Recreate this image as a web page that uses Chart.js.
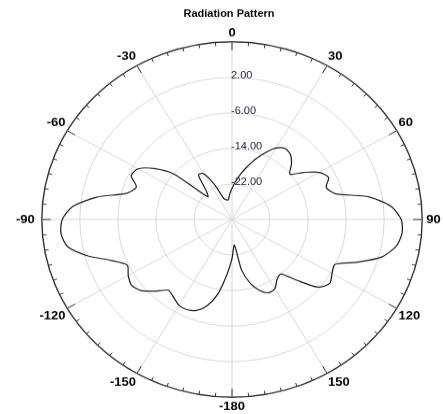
<!DOCTYPE html>
<html>
<head>
<meta charset="utf-8">
<script src="https://cdn.jsdelivr.net/npm/chart.js@4.4.1/dist/chart.umd.min.js"></script>
<style>
  html, body { margin: 0; padding: 0; background: #fff; overflow: hidden; }
  #wrap { width: 443px; height: 443px; overflow: hidden; transform: scaleY(0.934); transform-origin: 0 0; }
</style>
</head>
<body>
<div id="wrap"><canvas id="chart" width="447" height="443"></canvas></div>
<script>
// --- Data ---
// angles in degrees, clockwise from top, one every 5 degrees
const angles = Array.from({ length: 72 }, (_, i) => i * 5);
// gain in dB, same order as angles
const gainDb = [
  -23.0, -21.4, -19.6, -17.7, -15.5, -13.4, -11.4, -10.5, -10.9, -12.3, -14.1, -11.5,
  -8.8, -7.6, -8.9, -7.5, -0.7, 3.6, 5.6, 5.9, 5.0, 2.6, -1.9, -6.1,
  -5.7, -4.9, -6.3, -10.6, -14.0, -13.5, -12.0, -11.8, -13.0, -15.1, -18.5, -24.2,
  -21.2, -17.5, -13.0, -9.9, -8.2, -7.6, -7.7, -8.6, -9.2, -7.2, -5.1, -4.2,
  -4.8, -5.7, -3.0, 1.5, 5.1, 6.1, 5.7, 3.6, -1.1, -7.1, -8.6, -6.6,
  -7.2, -10.0, -14.1, -22.8, -21.6, -17.7, -18.1, -21.4, -25.0, -25.4, -25.5, -24.3
];
const rMin = -30;
const rMax = 10;
const rStep = 8;

const FONT = 'Arial, "Liberation Sans", sans-serif';

function angleLabel(a) {
  if (a % 30 !== 0) return '';
  return String(a < 180 ? a : a - 360);
}

// --- rim ticks + dB labels ---
const rimTicks = {
  id: 'rimTicks',
  afterDraw(chart) {
    const s = chart.scales.r;
    const ctx = chart.ctx;
    const R = s.drawingArea;
    ctx.save();
    ctx.strokeStyle = '#333';
    ctx.lineWidth = 1;
    angles.forEach((a, i) => {
      const len = a % 30 === 0 ? 9 : 4;
      const p1 = s.getPointPosition(i, R);
      const p2 = s.getPointPosition(i, R - len);
      ctx.beginPath();
      ctx.moveTo(p1.x, p1.y);
      ctx.lineTo(p2.x, p2.y);
      ctx.stroke();
    });
    ctx.fillStyle = '#22224a';
    ctx.font = '11px ' + FONT;
    ctx.textAlign = 'left';
    ctx.textBaseline = 'middle';
    s.ticks.forEach(t => {
      if (t.value <= rMin || t.value >= rMax) return;
      const d = s.getDistanceFromCenterForValue(t.value);
      ctx.fillText(t.value.toFixed(2), s.xCenter - 1, s.yCenter - d - 2);
    });
    ctx.restore();
  }
};

new Chart(document.getElementById('chart'), {
  type: 'radar',
  data: {
    labels: angles,
    datasets: [{
      data: gainDb,
      borderColor: '#1a1a1a',
      borderWidth: 1.2,
      pointRadius: 0,
      fill: false,
      tension: 0.25
    }]
  },
  options: {
    responsive: false,
    animation: false,
    devicePixelRatio: 1,
    layout: { padding: { left: 11 } },
    plugins: {
      legend: { display: false },
      tooltip: { enabled: false },
      title: {
        display: true,
        text: 'Radiation Pattern',
        color: '#000',
        font: { family: FONT, size: 11, weight: 'bold' },
        padding: { top: 8, bottom: 6 }
      }
    },
    scales: {
      r: {
        min: rMin,
        max: rMax,
        startAngle: 0,
        ticks: { stepSize: rStep, display: false },
        grid: {
          circular: true,
          color: c => c.index === 5 ? '#333' : '#d8d8d8',
          lineWidth: c => c.index === 5 ? 1.4 : 1
        },
        angleLines: {
          color: c => angles[c.index] % 30 === 0 ? '#d8d8d8' : 'rgba(0,0,0,0)',
          lineWidth: 1
        },
        pointLabels: {
          display: true,
          color: '#000',
          padding: c => angles[c.index] === 270 ? 7 : angles[c.index] === 90 ? 4 : 2,
          font: { family: FONT, size: 13, weight: 'bold' },
          callback: (label) => angleLabel(label)
        }
      }
    }
  },
  plugins: [rimTicks]
});
</script>
</body>
</html>
